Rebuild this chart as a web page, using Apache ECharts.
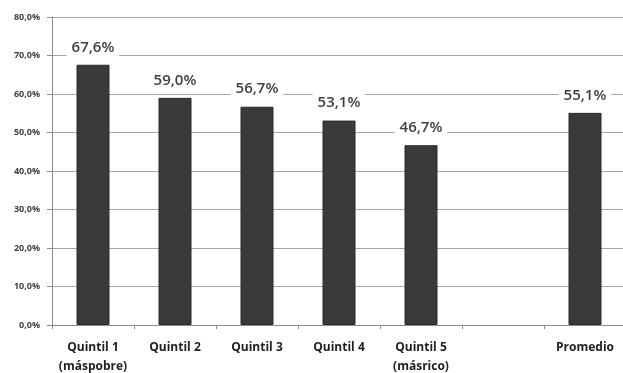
<!DOCTYPE html>
<html>
<head>
<meta charset="utf-8">
<script src="https://cdn.jsdelivr.net/npm/echarts@6/dist/echarts.min.js"></script>
<style>
  html, body { margin: 0; padding: 0; background: #fff; }
  #chart { width: 623px; height: 373px; }
</style>
</head>
<body>
<div id="chart"></div>
<script>
// Category labels along the x axis (the sixth slot is an intentional gap)
const categories = ['Quintil 1\n(máspobre)', 'Quintil 2', 'Quintil 3', 'Quintil 4', 'Quintil 5\n(másrico)', '', 'Promedio'];
// Percentage per category
const values = [67.6, 59.0, 56.7, 53.1, 46.7, null, 55.1];
// Value-axis range and step
const yMin = 0;
const yMax = 80;
const yStep = 10;

const pct = v => v.toFixed(1).replace('.', ',') + '%';

const chart = echarts.init(document.getElementById('chart'));
chart.setOption({
  animation: false,
  grid: { left: 52, right: -3, top: 17, bottom: 48, outerBoundsMode: 'none', containLabel: false },
  xAxis: {
    type: 'category',
    data: categories,
    axisLine: { lineStyle: { color: '#8c8c8c', width: 1 } },
    axisTick: { show: true, length: 4, lineStyle: { color: '#8c8c8c' } },
    axisLabel: {
      interval: 0,
      color: '#222',
      fontFamily: 'Open Sans',
      fontSize: 12,
      fontWeight: 'bold',
      lineHeight: 19,
      margin: 13
    }
  },
  yAxis: {
    type: 'value',
    min: yMin,
    max: yMax,
    interval: yStep,
    axisLine: { show: true, lineStyle: { color: '#8c8c8c' } },
    axisTick: { show: true, length: 5, lineStyle: { color: '#8c8c8c' } },
    splitLine: { lineStyle: { color: '#a6a6a6', width: 1 } },
    axisLabel: {
      formatter: v => pct(v),
      color: '#404040',
      fontFamily: 'Open Sans',
      fontSize: 9,
      fontWeight: 'bold',
      margin: 12
    }
  },
  series: [{
    type: 'bar',
    data: values,
    barWidth: 33,
    itemStyle: { color: '#3a3a3a', borderColor: '#2a2a2a', borderWidth: 1 },
    label: {
      show: true,
      position: 'top',
      distance: 7,
      formatter: p => pct(p.value),
      color: '#404040',
      fontFamily: 'Open Sans',
      fontSize: 15,
      fontWeight: 600,
      backgroundColor: '#fff',
      padding: [2, 5, 3, 5]
    }
  }]
});
</script>
</body>
</html>
